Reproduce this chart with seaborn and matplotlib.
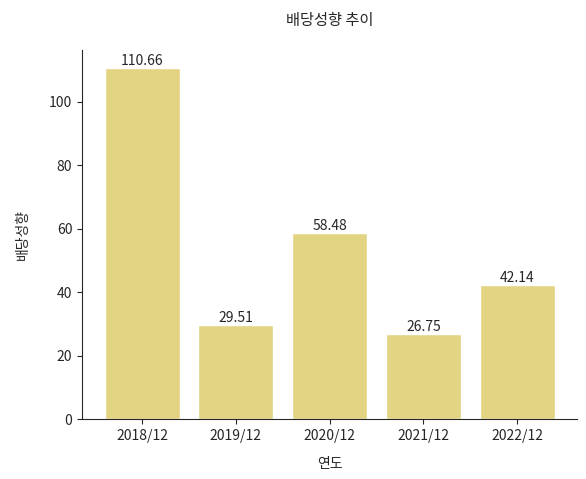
import matplotlib
matplotlib.use('Agg')
import matplotlib.pyplot as plt
import seaborn as sns
import pandas as pd

years = ['2018/12', '2019/12', '2020/12', '2021/12', '2022/12']
payout = [110.66, 29.51, 58.48, 26.75, 42.14]

data = pd.DataFrame({'연도': years, '배당성향': payout})

sns.set_style('ticks')
plt.rcParams['font.family'] = ['Noto Sans CJK KR', 'DejaVu Sans']

fig, ax = plt.subplots(figsize=(5.86, 4.79), dpi=100)
sns.barplot(data=data, x='연도', y='배당성향', color='#E3D483', saturation=1, width=0.8, ax=ax)

for i, v in enumerate(payout):
	ax.text(i, v, f'{v:.2f}', ha='center', va='bottom', fontsize=10)

# widen x margins to match matplotlib's default bar layout
ax.set_xlim(-0.64, 4.64)
sns.despine(ax=ax)
ax.set_title('배당성향 추이', fontsize=11, pad=18)
ax.set_xlabel('연도', labelpad=10)
ax.set_ylabel('배당성향', labelpad=14)
fig.subplots_adjust(left=0.14, right=0.985, top=0.895, bottom=0.125)
plt.savefig('out.png', dpi=100)
